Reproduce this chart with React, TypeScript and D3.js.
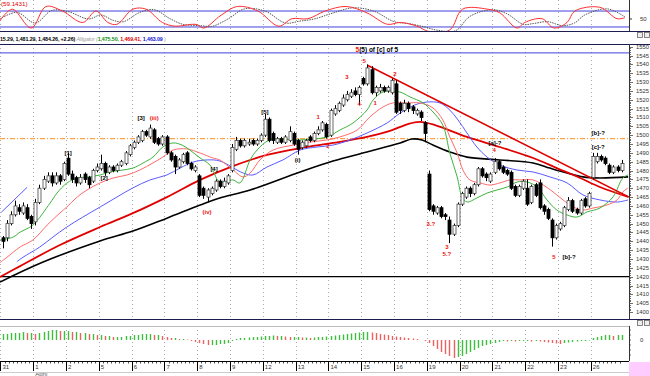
import React from 'react';
import * as d3 from 'd3';

const dayLabels = ['31', '1', '2', '5', '6', '7', '8', '9', '12', '13', '14', '15', '16', '19', '20', '21', '22', '23', '26'];
const BARS_PER_DAY = 8;

// [open, high, low, close]
const candles: number[][] = [
  [1442, 1443, 1436, 1440], [1442, 1452, 1440, 1450], [1450, 1457, 1449, 1455], [1455, 1463, 1454, 1460],
  [1459, 1461, 1455, 1457], [1456, 1462, 1455, 1460], [1459, 1461, 1452, 1453], [1454, 1455, 1447, 1450],
  [1451, 1464, 1449, 1462], [1462, 1472, 1461, 1470], [1470, 1477, 1469, 1475], [1474, 1479, 1473, 1477],
  [1477, 1479, 1471, 1473], [1473, 1479, 1472, 1477], [1477, 1478, 1472, 1474], [1475, 1485, 1474, 1484],
  [1487, 1490, 1477, 1478], [1478, 1480, 1473, 1475], [1476, 1477, 1471, 1473], [1473, 1478, 1472, 1476],
  [1478, 1479, 1473, 1475], [1476, 1477, 1470, 1472], [1474, 1481, 1473, 1480], [1480, 1484, 1479, 1482],
  [1481, 1489, 1480, 1484], [1484, 1485, 1477, 1479], [1479, 1483, 1478, 1482], [1482, 1483, 1479, 1480],
  [1480, 1484, 1479, 1483], [1483, 1486, 1482, 1485], [1484, 1491, 1483, 1490], [1489, 1495, 1488, 1494],
  [1493, 1497, 1492, 1496], [1496, 1500, 1495, 1499], [1497, 1503, 1496, 1502], [1502, 1503, 1499, 1500],
  [1499, 1506, 1498, 1504], [1503, 1504, 1495, 1496], [1498, 1499, 1494, 1495], [1495, 1500, 1494, 1499],
  [1499, 1500, 1489, 1490], [1490, 1491, 1485, 1486], [1488, 1489, 1478, 1482], [1482, 1487, 1481, 1486],
  [1485, 1490, 1484, 1489], [1490, 1491, 1483, 1484], [1484, 1485, 1480, 1481], [1480, 1483, 1479, 1482],
  [1477, 1478, 1465, 1466], [1470, 1471, 1464, 1466], [1465, 1470, 1462, 1469], [1467, 1471, 1466, 1470],
  [1469, 1475, 1468, 1474], [1474, 1475, 1470, 1471], [1471, 1476, 1470, 1474], [1473, 1478, 1472, 1477],
  [1480, 1495, 1479, 1493], [1492, 1499, 1491, 1497], [1497, 1498, 1493, 1494], [1494, 1498, 1493, 1497],
  [1495, 1498, 1494, 1496], [1497, 1498, 1494, 1495], [1495, 1498, 1494, 1497], [1497, 1501, 1496, 1500],
  [1500, 1512, 1499, 1509], [1509, 1510, 1496, 1497], [1501, 1502, 1495, 1497], [1496, 1499, 1495, 1498],
  [1498, 1499, 1495, 1496], [1496, 1500, 1495, 1499], [1497, 1505, 1496, 1502], [1501, 1502, 1494, 1495],
  [1497, 1498, 1489, 1492], [1493, 1497, 1492, 1496], [1494, 1498, 1493, 1497], [1499, 1500, 1496, 1497],
  [1497, 1502, 1496, 1501], [1501, 1505, 1500, 1503], [1503, 1508, 1502, 1507], [1506, 1507, 1498, 1499],
  [1500, 1515, 1499, 1514], [1512, 1517, 1511, 1515], [1514, 1519, 1513, 1518], [1517, 1523, 1516, 1521],
  [1520, 1525, 1519, 1523], [1522, 1526, 1521, 1524], [1525, 1527, 1522, 1523], [1523, 1528, 1517, 1527],
  [1532, 1533, 1528, 1529], [1529, 1540, 1528, 1538], [1537, 1539, 1523, 1524], [1524, 1528, 1522, 1527],
  [1525, 1529, 1524, 1527], [1527, 1528, 1524, 1525], [1525, 1528, 1524, 1527], [1524, 1532, 1523, 1531],
  [1529, 1531, 1512, 1513], [1518, 1519, 1512, 1514], [1514, 1520, 1513, 1518], [1518, 1519, 1513, 1515],
  [1516, 1517, 1512, 1514], [1512, 1515, 1511, 1514], [1513, 1514, 1508, 1510], [1507, 1508, 1496, 1501],
  [1478, 1480, 1457, 1458], [1460, 1461, 1455, 1457], [1456, 1460, 1455, 1459], [1459, 1460, 1453, 1454],
  [1455, 1456, 1452, 1454], [1452, 1454, 1439, 1444], [1444, 1450, 1443, 1449], [1449, 1462, 1448, 1461],
  [1461, 1468, 1460, 1467], [1465, 1471, 1464, 1470], [1470, 1471, 1465, 1467], [1467, 1473, 1466, 1472],
  [1472, 1482, 1471, 1481], [1481, 1482, 1476, 1477], [1478, 1479, 1474, 1476], [1474, 1479, 1473, 1478],
  [1479, 1487, 1478, 1485], [1485, 1486, 1480, 1481], [1482, 1483, 1478, 1479], [1480, 1481, 1477, 1478],
  [1479, 1480, 1469, 1470], [1471, 1472, 1465, 1466], [1466, 1472, 1465, 1471], [1470, 1475, 1469, 1474],
  [1470, 1475, 1460, 1461], [1462, 1472, 1461, 1471], [1472, 1473, 1465, 1466], [1473, 1475, 1458, 1459],
  [1460, 1461, 1455, 1457], [1458, 1459, 1452, 1453], [1452, 1453, 1437, 1442], [1442, 1450, 1441, 1449],
  [1447, 1451, 1446, 1450], [1449, 1460, 1448, 1459], [1458, 1465, 1457, 1463], [1463, 1464, 1456, 1457],
  [1458, 1459, 1455, 1456], [1456, 1464, 1455, 1463], [1464, 1465, 1459, 1460], [1460, 1468, 1459, 1467],
  [1476, 1490, 1475, 1488], [1485, 1490, 1484, 1488], [1488, 1489, 1485, 1486], [1487, 1488, 1483, 1484],
  [1483, 1484, 1478, 1479], [1479, 1483, 1478, 1482], [1482, 1483, 1479, 1480], [1480, 1486, 1479, 1484],
];

// Indicator lines: [bar index, price]
const lipsPts = [
  [-0.6, 1440.7], [2.6, 1442.4], [4.3, 1445.2], [7.4, 1449.2], [11.6, 1461.6], [13.3, 1467.3], [15.7, 1472.9],
  [18.2, 1475.8], [20.6, 1476.3], [23.8, 1477.5], [26.2, 1479.2], [31.8, 1481.4], [34.3, 1484.3], [36.7, 1487.6],
  [39.1, 1493.3], [41.6, 1495.6], [43.8, 1494.4], [45.7, 1491.6], [48.2, 1487.1], [50.6, 1483.1], [53, 1473.5],
  [56.2, 1474.7], [57.9, 1473], [60.4, 1486], [62.1, 1491.6], [65.2, 1497.3], [72.6, 1497.3], [79.1, 1499],
  [82.3, 1502.9], [85.5, 1506.9], [88.9, 1514.2], [90.4, 1519.9], [92.8, 1524.4], [96.9, 1524.4], [99.4, 1521.6],
  [102.6, 1518.2], [105, 1513.1], [107.4, 1505.7], [109.1, 1489.9], [110.9, 1476.4], [112.1, 1465.1], [113.3, 1462.2],
  [115.7, 1464.5], [118.2, 1467.3], [120.6, 1469], [123.1, 1470.7], [125.5, 1473.5], [128, 1473.5], [130.4, 1470.7],
  [132.8, 1463.4], [135.2, 1457.7], [137.7, 1454.9], [140.1, 1453.7], [142.6, 1456.6], [145.7, 1458.8],
  [148.9, 1465.1], [151.3, 1475.8], [152.6, 1477.5],
];
const teethPts = [
  [-0.6, 1428], [1.1, 1431], [4.3, 1436.8], [7.4, 1440.7], [10.9, 1449.2], [14, 1456], [15.7, 1459.4], [18.2, 1465],
  [20.6, 1469], [23.8, 1473], [27, 1475.8], [30.4, 1477.5], [33.5, 1480.3], [36.7, 1484.3], [39.1, 1487.6],
  [41.6, 1491.6], [45, 1492.2], [48.2, 1489.9], [51.3, 1487.1], [53, 1486], [56.2, 1480.3], [58.7, 1476.4],
  [60.4, 1478.6], [62.8, 1486], [66, 1491.6], [70.9, 1494.4], [75, 1496.1], [79.1, 1497.3], [82.3, 1499],
  [86.5, 1502.9], [89.6, 1510.3], [92.8, 1515.9], [95.2, 1518.2], [98.7, 1518.2], [101.8, 1518.2], [105, 1515.4],
  [107.4, 1508.6], [109.1, 1499], [110.9, 1489.9], [112.3, 1480.3], [114, 1474.7], [116.5, 1473], [118.9, 1471.8],
  [121.3, 1473], [123.8, 1474.7], [126.2, 1474.7], [129.4, 1474.7], [131.9, 1471.8], [134.3, 1467.9],
  [136.7, 1463.4], [139.2, 1459.4], [141.6, 1457.7], [144, 1458.8], [147.4, 1460.5], [149.9, 1463.4],
  [151.3, 1467.9], [152.6, 1470.2],
];
const jawPts = [
  [3.5, 1428.5], [5, 1431], [9.1, 1436.8], [12.3, 1442.4], [15.7, 1448.1], [19.6, 1453.7], [23.8, 1459.4], [27.9, 1465],
  [31.8, 1470.2], [36, 1474.7], [40.1, 1477.5], [43.3, 1481.4], [46.5, 1484.8], [49.9, 1486], [53, 1485.4],
  [58.7, 1478.6], [61.1, 1477.5], [64.5, 1482], [68.4, 1486], [72.6, 1491.6], [76.7, 1493.3], [80.6, 1494.4],
  [84.8, 1497.3], [88.9, 1501.2], [93.8, 1506.9], [97, 1512.5], [100.6, 1517.1], [103.5, 1518.7], [106.7, 1518.2],
  [109.1, 1514.2], [111.1, 1508.6], [113.3, 1501.2], [115.7, 1493.3], [118.2, 1487.6], [121.3, 1483.1],
  [125.5, 1480.3], [129.4, 1479.2], [133.5, 1476.4], [137.7, 1473], [141.6, 1466.2], [145.7, 1463.4],
  [149.9, 1462.2], [152.6, 1463.4],
];
const maRedPts = [
  [-0.6, 1419.8], [4.3, 1426], [14, 1437.9], [23.8, 1448.1], [31.8, 1455.9], [40.1, 1465], [48.2, 1474.7],
  [56.2, 1482.5], [64.5, 1488.8], [72.6, 1492.7], [80.6, 1495.6], [88.9, 1499], [94.5, 1502.4], [98.9, 1506.3],
  [101.8, 1507.5], [105.5, 1505.7], [113.3, 1499], [121.3, 1493.3], [129.4, 1487.1], [135.2, 1481.4],
  [140.9, 1475.8], [145.7, 1470.7], [152.6, 1465.1],
];
const maBlackPts = [
  [-0.6, 1417], [9.9, 1428.3], [23.8, 1440.2], [31.8, 1445.8], [40.1, 1453.1], [48.2, 1460.5], [53, 1464.5],
  [60.4, 1469], [72.6, 1479.2], [80.6, 1485.4], [88.9, 1490.5], [97, 1495.6], [99.9, 1497.8], [102.3, 1497.3],
  [105, 1494.4], [109.1, 1490.5], [113.3, 1487.6], [121.3, 1486], [129.4, 1484.3], [133.5, 1481.4],
  [137.7, 1478.6], [141.6, 1476.4], [145.7, 1475.8], [152.6, 1476.4],
];
const trendPts = [[89, 1539.5], [152.8, 1465]];
const channelPts = [[-0.3, 1456.4], [6, 1470.5]];
const levelBlue = 1546.5;
const levelDash = 1498;
const levelBlack = 1420;

// Stochastic (bar index, value)
const stochK = [
  [-0.6, 44], [2.4, 87], [7, 16], [10.6, 97], [14.6, 80], [19.6, 37], [22.8, 80], [25.7, 37], [27.9, 30], [31.8, 87],
  [35, 87], [39, 37], [42.1, 23], [47.2, 30], [49.1, 16], [53.3, 64], [57.3, 97], [62.3, 80], [67.4, 23], [70.6, 51],
  [74.5, 51], [78.7, 80], [83.8, 97], [88.9, 73], [93.9, 30], [97, 37], [101.1, 23], [104, 3], [109.1, 9],
  [112.2, 87], [118.3, 87], [121.3, 73], [125.5, 16], [127.4, 37], [131.6, 51], [134.5, 16], [137.7, 37],
  [139.6, 80], [145.7, 94], [149.9, 51], [151.8, 55],
];
const stochD = [
  [-0.6, 50], [3.5, 75], [8, 35], [12, 82], [16, 78], [21, 50], [24, 65], [27, 45], [29.5, 40], [33.5, 75], [37, 85],
  [41, 50], [44, 30], [48.5, 25], [51, 22], [55, 50], [59, 88], [64, 80], [69, 35], [72.5, 42], [76, 50], [80.5, 72],
  [85.5, 92], [90.5, 80], [95.5, 40], [99, 33], [103, 20], [106, 8], [110.5, 6], [114, 60], [119.5, 85], [123, 70],
  [127, 30], [129.5, 33], [133, 40], [136.5, 25], [139.5, 35], [142, 65], [147.5, 88], [151.8, 58],
];

// Awesome oscillator, one value per bar
const aoVals = [
  6, 6, 7, 7, 7, 8, 7, 7,
  6, 7, 8, 9, 10, 10, 9, 9,
  9, 8, 8, 7, 7, 6, 6, 5,
  5, 4, 4, 3, 3, 3, 4, 4,
  5, 5, 6, 6, 6, 5, 5, 4,
  3, 2, 2, 1, 1, 0.5, -1, -2,
  -3, -4, -5, -5, -5, -4, -4, -3,
  -1, 1, 2, 2, 2.5, 3, 3, 3.5,
  4, 4, 4.5, 4, 4, 3.5, 3, 3,
  3, 2.5, 2.5, 2, 2.5, 3, 3, 3.5,
  4, 4.5, 5, 5.5, 6, 6.5, 7, 7.5,
  8, 8, 7.5, 7, 6, 5.5, 5, 4,
  3.5, 3, 2.5, 2, 1.5, 1, 0, -1,
  -3, -6, -9, -12, -14, -16, -18, -17,
  -16, -14, -12, -10, -8, -6, -5, -4,
  -3, -2, -1, -1.5, -1, -1.5, -1, -1,
  -1, -1.5, -1, -1.5, -2, -2.5, -3, -3.5,
  -4, -3, -2.5, -2, -1.5, -1, -1, -0.5,
  2, 3, 4, 5, 5, 4, 5, 5,
];

// wave labels: [bar, price, text, colour key]
const waveLabels: [number, number, string, string][] = [
  [16, 1490, '[1]', 'k'], [24.8, 1475.8, '[2]', 'k'], [33.8, 1509.7, '[3]', 'k'], [37, 1509.7, '(iii)', 'r'],
  [49.9, 1456.6, '(iv)', 'r'], [51.6, 1480.9, '[4]', 'k'], [64, 1513.1, '[5]', 'k'], [72, 1486, '(i)', 'k'],
  [77, 1510.3, '1', 'r'], [79.4, 1493.9, '2', 'r'], [84, 1532.9, '3', 'r'], [87, 1517.6, '4', 'r'],
  [88.2, 1541.9, '5', 'r'], [90.9, 1518.2, '1', 'r'], [95.7, 1534.6, '2', 'r'], [104.5, 1449.7, '3.?', 'r'],
  [108.4, 1436.7, '3', 'r'], [108.4, 1432.8, '5.?', 'r'], [120.1, 1495.6, '[a]-?', 'k'], [119.9, 1491.6, '4', 'r'],
  [134.5, 1431.1, '5', 'r'], [138.2, 1431.1, '[b]-?', 'k'], [145.3, 1501.2, '[b]-?', 'k'], [145.3, 1493.3, '[c]-?', 'k'],
];

const stochTitle = '(59.1431)';
const priceInfo = '15.29, 1,481.29, 1,484.26, +2.26)';
const alligatorVals = ['1,475.50,', '1,469.41,', '1,463.09'];

const FONT = "'Liberation Sans', Arial, sans-serif";

export default function App() {
  const nBars = candles.length;
  const x = d3.scaleLinear().domain([0, nBars - 1]).range([2.5, 621.6]);
  const y = d3.scaleLinear().domain([1420, 1550]).range([276.7, 46.7]);
  const ys = d3.scaleLinear().domain([0, 100]).range([32.3, 5.7]);
  const ya = d3.scaleLinear().domain([-20, 20]).range([360, 320]);
  const step = x(1) - x(0);

  const line = d3.line<number[]>().x(d => x(d[0])).y(d => y(d[1])).curve(d3.curveCatmullRom.alpha(0.5));
  const sline = d3.line<number[]>().x(d => x(d[0])).y(d => ys(d[1])).curve(d3.curveCatmullRom.alpha(0.5));
  const straight = d3.line<number[]>().x(d => x(d[0])).y(d => y(d[1]));

  const plotR = 629;
  const dayX = (d: number) => x(d * BARS_PER_DAY) - step / 2;
  const priceTicks = d3.range(1400, 1551, 5);
  const minorTicks = d3.range(1400, 1551, 1);

  const red = '#ee1111';

  return (
    <svg width={650} height={376} style={{ position: 'absolute', left: 0, top: 0, background: '#fff' }} fontFamily={FONT}>
      <defs>
        <clipPath id="mainClip"><rect x={0} y={44} width={plotR} height={275} /></clipPath>
        <clipPath id="stClip"><rect x={0} y={0} width={plotR} height={31} /></clipPath>
      </defs>
      <rect x={0} y={0} width={650} height={376} fill="#fff" />

      {/* vertical day grid lines */}
      {dayLabels.map((d, i) => (
        <g key={'g' + i}>
          <line x1={Math.round(dayX(i)) + 0.5} x2={Math.round(dayX(i)) + 0.5} y1={0} y2={31} stroke="#aaa" strokeDasharray="1,3" strokeWidth={1} />
          <line x1={Math.round(dayX(i)) + 0.5} x2={Math.round(dayX(i)) + 0.5} y1={44} y2={319} stroke="#aaa" strokeDasharray="1,3" strokeWidth={1} />
          <line x1={Math.round(dayX(i)) + 0.5} x2={Math.round(dayX(i)) + 0.5} y1={326} y2={361} stroke="#aaa" strokeDasharray="1,3" strokeWidth={1} />
        </g>
      ))}

      {/* ===== Stochastic panel ===== */}
      <line x1={0} x2={plotR} y1={ys(80)} y2={ys(80)} stroke="#4040e0" strokeWidth={1} />
      <line x1={0} x2={plotR} y1={ys(20)} y2={ys(20)} stroke="#4040e0" strokeWidth={1} />
      <g clipPath="url(#stClip)">
        <path d={sline(stochD) || ''} fill="none" stroke="#555" strokeWidth={1} strokeDasharray="1.5,1" />
        <path d={sline(stochK) || ''} fill="none" stroke="#ff3030" strokeWidth={1} />
      </g>
      <text x={1} y={6} fontSize={6.2} fill="#e00000">{stochTitle}</text>
      <line x1={plotR + 0.5} x2={plotR + 0.5} y1={0} y2={31} stroke="#333" />
      <line x1={plotR} x2={plotR + 3} y1={ys(50)} y2={ys(50)} stroke="#333" />
      <text x={640} y={ys(50) + 2} fontSize={6} fill="#333">50</text>
      <line x1={0} x2={650} y1={31.5} y2={31.5} stroke="#1c1c50" strokeWidth={1} />

      {/* text strip */}
      <text x={0} y={40.5} fontSize={5.3} fontWeight="bold" letterSpacing={-0.1}>
        <tspan fill="#000">{priceInfo}</tspan>
        <tspan fill="#999" fontStyle="italic" fontWeight="normal"> Alligator (</tspan>
        <tspan fill="#109010">{alligatorVals[0]}</tspan>
        <tspan fill="#e00000"> {alligatorVals[1]}</tspan>
        <tspan fill="#1010e0"> {alligatorVals[2]}</tspan>
        <tspan fill="#999" fontWeight="normal"> )</tspan>
      </text>
      <rect x={637.5} y={32.5} width={5} height={5} fill="#eee" stroke="#555" strokeWidth={0.7} />
      <rect x={644.5} y={32.5} width={5} height={5} fill="#eee" stroke="#555" strokeWidth={0.7} />
      <line x1={0} x2={650} y1={44.5} y2={44.5} stroke="#1c1c50" strokeWidth={1} />

      {/* ===== Main panel ===== */}
      <g clipPath="url(#mainClip)">
        <line x1={0} x2={plotR} y1={y(levelBlue)} y2={y(levelBlue)} stroke="#4040e0" strokeWidth={1} />
        <line x1={0} x2={plotR} y1={y(levelDash)} y2={y(levelDash)} stroke="#ff8c1a" strokeWidth={1} strokeDasharray="5,2,1,2" />
        <line x1={0} x2={plotR} y1={y(levelBlack)} y2={y(levelBlack)} stroke="#000" strokeWidth={1.3} />

        <path d={line(maBlackPts) || ''} fill="none" stroke="#000" strokeWidth={1.6} />
        <path d={line(maRedPts) || ''} fill="none" stroke="#e00000" strokeWidth={1.8} />
        <path d={line(jawPts) || ''} fill="none" stroke="#5a5aff" strokeWidth={1} />
        <path d={line(teethPts) || ''} fill="none" stroke="#ff6a6a" strokeWidth={1} />
        <path d={line(lipsPts) || ''} fill="none" stroke="#3cb43c" strokeWidth={1} />
        <path d={straight(trendPts) || ''} fill="none" stroke="#e00000" strokeWidth={1.5} />
        <path d={straight(channelPts) || ''} fill="none" stroke="#5a5aff" strokeWidth={1} />

        {candles.map((c, i) => {
          const [o, h, l, cl] = c;
          const cx = Math.round(x(i)) + 0.5;
          const up = cl >= o;
          const top = y(Math.max(o, cl));
          const bot = y(Math.min(o, cl));
          return (
            <g key={'c' + i}>
              <line x1={cx} x2={cx} y1={y(h)} y2={y(l)} stroke="#000" strokeWidth={1} />
              <rect x={cx - 1.5} y={top} width={3} height={Math.max(0.8, bot - top)} fill={up ? '#fff' : '#000'} stroke={up ? '#444' : '#000'} strokeWidth={0.8} />
            </g>
          );
        })}

        {waveLabels.map((w, i) => (
          <text key={'w' + i} x={x(w[0])} y={y(w[1]) + 2} fontSize={6} fontWeight="bold" textAnchor="middle" fill={w[3] === 'r' ? red : '#000'}>{w[2]}</text>
        ))}
        <text x={x(91.3)} y={y(1548.3) + 2} fontSize={6.5} fontWeight="bold" textAnchor="middle">
          <tspan fill={red}>5</tspan><tspan fill="#000">(5) of [c] of 5</tspan>
        </text>
      </g>

      {/* price axis */}
      <line x1={plotR + 0.5} x2={plotR + 0.5} y1={44} y2={319} stroke="#333" />
      {minorTicks.map(p => (
        <line key={'m' + p} x1={plotR} x2={plotR + (p % 5 === 0 ? 4 : 2)} y1={Math.round(y(p)) + 0.5} y2={Math.round(y(p)) + 0.5} stroke="#333" strokeWidth={0.7} />
      ))}
      {priceTicks.map(p => (
        <text key={'p' + p} x={636} y={y(p) + 2} fontSize={5.8} fill="#333">{p}</text>
      ))}

      {/* panel separation */}
      <line x1={0} x2={650} y1={319.5} y2={319.5} stroke="#1c1c50" strokeWidth={1} />
      <rect x={637.5} y={320.5} width={5} height={5} fill="#eee" stroke="#555" strokeWidth={0.7} />
      <rect x={644.5} y={320.5} width={5} height={5} fill="#eee" stroke="#555" strokeWidth={0.7} />
      <line x1={0} x2={plotR} y1={326.5} y2={326.5} stroke="#bbb" strokeWidth={1} />

      {/* ===== AO panel ===== */}
      {aoVals.map((v, i) => {
        const prev = i > 0 ? aoVals[i - 1] : v;
        const col = v >= prev ? '#3cbf3c' : '#f06060';
        const cx = Math.round(x(i)) + 0.5;
        return <line key={'a' + i} x1={cx} x2={cx} y1={ya(0)} y2={ya(v)} stroke={col} strokeWidth={1.4} />;
      })}
      <line x1={plotR + 0.5} x2={plotR + 0.5} y1={326} y2={361} stroke="#333" />
      {[-15, -10, -5, 0, 5, 10].map(v => (
        <line key={'at' + v} x1={plotR} x2={plotR + 2} y1={ya(v)} y2={ya(v)} stroke="#333" strokeWidth={0.7} />
      ))}
      <text x={640} y={ya(0) + 2} fontSize={6} fill="#333">0</text>

      {/* x axis */}
      <line x1={0} x2={plotR} y1={361.5} y2={361.5} stroke="#000" strokeWidth={1} />
      {candles.map((c, i) => (
        <line key={'xt' + i} x1={Math.round(dayX(0) + i * step) + 0.5} x2={Math.round(dayX(0) + i * step) + 0.5} y1={361} y2={363.5} stroke="#000" strokeWidth={0.7} />
      ))}
      {dayLabels.map((d, i) => (
        <g key={'d' + i}>
          <line x1={Math.round(dayX(i)) + 0.5} x2={Math.round(dayX(i)) + 0.5} y1={361} y2={371} stroke="#000" strokeWidth={1} />
          <text x={dayX(i) + 2} y={369} fontSize={6} fill="#333">{d}</text>
        </g>
      ))}
      <text x={dayX(1) + 2} y={376} fontSize={6} fill="#555">April</text>
      <line x1={0} x2={plotR} y1={372.5} y2={372.5} stroke="#ccc" strokeWidth={1} />
      <rect x={629} y={362} width={21} height={14} fill="#ffccff" />
    </svg>
  );
}
